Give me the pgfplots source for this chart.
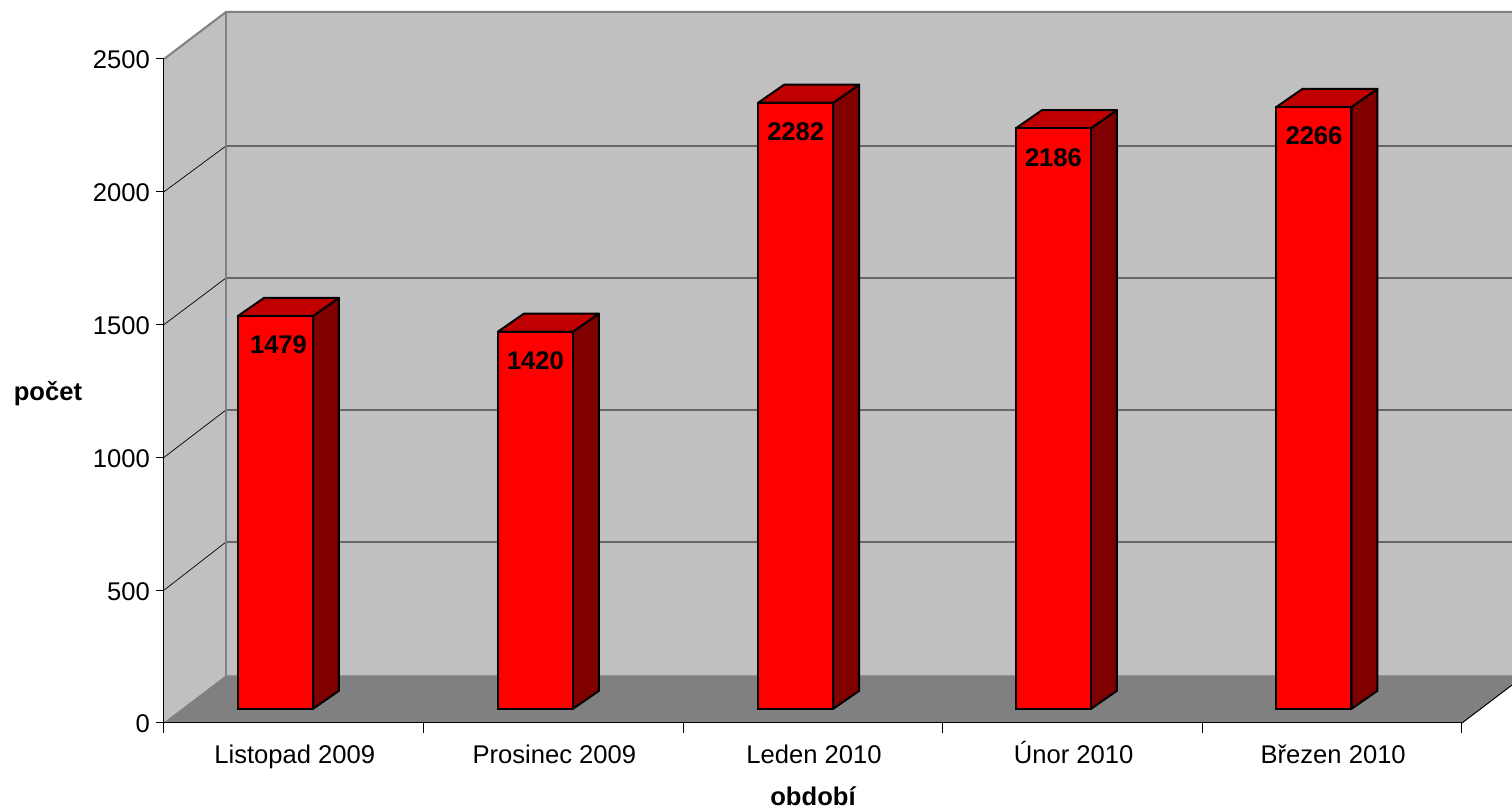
\documentclass[border=0pt]{standalone}
\usepackage{fontspec}
\setmainfont{Liberation Sans}
\usepackage{pgfplots}
\pgfplotsset{compat=1.18}

\definecolor{wall}{HTML}{C0C0C0}
\definecolor{floorgray}{HTML}{808080}
\definecolor{sideface}{HTML}{800000}
\definecolor{topface}{HTML}{C00000}

% side and top of one bar: x of the front centre, value
% 1 px = 0.5pt, one category = 259.6 px, 1 unit = 0.2656 px
\newcommand{\barsides}[2]{
  \addplot[draw=black,line width=1pt,fill=sideface,line join=round] coordinates {
    ({#1+0.1445},53.5) ({#1+0.2445},121.3) ({#1+0.2445},{#2+121.3}) ({#1+0.1445},{#2+53.5})
  } -- cycle;
  \addplot[draw=black,line width=1pt,fill=topface,line join=round] coordinates {
    ({#1-0.1445},{#2+53.5}) ({#1-0.0445},{#2+121.3}) ({#1+0.2445},{#2+121.3}) ({#1+0.1445},{#2+53.5})
  } -- cycle;
}
% gridline: value at the front, height on the back wall
\newcommand{\gridline}[2]{
  \addplot[black,line width=0.35pt] coordinates {(0,#1) (0.2388,#2)};
  \addplot[black!60,line width=0.75pt] coordinates {(0.2388,#2) (5.1926,#2)};
}

\begin{document}
\begin{tikzpicture}
  \path[use as bounding box] (-82pt,-42.5pt) rectangle (674pt,361.5pt);
  \begin{axis}[
      scale only axis,
      width=649pt,
      height=332pt,
      xmin=0, xmax=5,
      ymin=0, ymax=2500,
      clip=false,
      axis on top,
      axis lines*=left,
      axis line style={black,line width=0.5pt,-},
      tick align=outside,
      tick pos=left,
      tick style={black,line width=0.5pt},
      major tick length=4pt,
      xtick style={/pgfplots/major tick length=5pt},
      xtick={0,...,5},
      x tick label as interval,
      xticklabels={Listopad 2009,Prosinec 2009,Leden 2010,Únor 2010,Březen 2010},
      ytick={0,500,...,2500},
      ticklabel style={font=\fontsize{12.8}{15}\selectfont},
      /pgf/number format/assume math mode=true,
      /pgf/number format/1000 sep={},
      xticklabel style={anchor=base,text height=9pt,text depth=2.5pt,yshift=-16.5pt,xshift=0.5pt},
      yticklabel style={xshift=0.5pt,yshift=-0.5pt},
      xlabel={období},
      ylabel={počet},
      label style={font=\fontsize{12.8}{15}\selectfont\bfseries},
      xlabel style={at={(rel axis cs:0.5,0)},anchor=center,yshift=-36.5pt},
      ylabel style={rotate=-90,at={(rel axis cs:0,0.4985)},anchor=center,xshift=-58pt,yshift=-1pt},
    ]
    % walls and floor
    \addplot[fill=wall,draw=none] coordinates {(0,0) (0.2388,177) (0.2388,2677) (0,2500)} -- cycle;
    \addplot[fill=wall,draw=none] coordinates {(0.2388,177) (0.2388,2677) (5.1926,2677) (5.1926,177)} -- cycle;
    \addplot[fill=floorgray,draw=none] coordinates {(0,0) (0.2388,177) (5.1926,177) (5.1926,143) (5,0)} -- cycle;
    \addplot[black,line width=0.5pt] coordinates {(5,0) (5.1926,143)};
    % grid
    \gridline{500}{681.5}
    \gridline{1000}{1178.5}
    \gridline{1500}{1675.5}
    \gridline{2000}{2172.5}
    \addplot[floorgray,line width=1pt] coordinates {(0,2500) (0.2388,2677) (5.1926,2677)};
    \addplot[floorgray,line width=1pt] coordinates {(0.2388,177) (0.2388,2677)};
    \addplot[floorgray,line width=0.5pt] coordinates {(0,0) (0.2388,177) (5.1926,177)};
    % bars
    \barsides{0.4295}{1479}
    \barsides{1.431}{1420}
    \barsides{2.4335}{2282}
    \barsides{3.4264}{2186}
    \barsides{4.4299}{2266}
    \addplot[
      ybar,
      bar width=37.5pt,
      bar shift=0pt,
      yshift=7.1pt,
      draw=black,
      line width=1pt,
      fill=red,
      nodes near coords,
      nodes near coords align={below},
      nodes near coords style={
        font=\fontsize{12.8}{15}\selectfont\bfseries,
        text=black,
        yshift=-6.2pt,
        xshift={ifthenelse(\coordindex==0,1.5,0)*1pt},
      },
    ] coordinates {
      (0.4295,1479)
      (1.431,1420)
      (2.4335,2282)
      (3.4264,2186)
      (4.4299,2266)
    };
  \end{axis}
\end{tikzpicture}
\end{document}
